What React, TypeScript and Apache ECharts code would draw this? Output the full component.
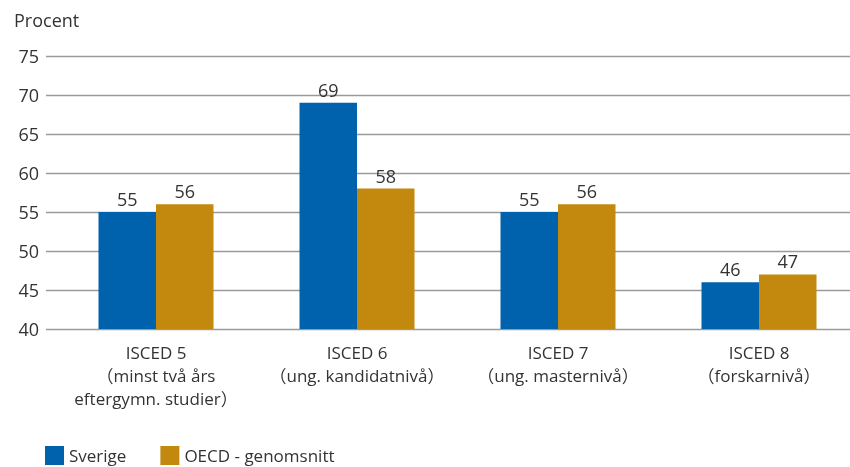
import React, { useEffect, useRef } from "react";
import * as echarts from "echarts";

const categories = [
  "ISCED 5\n（minst två års\neftergymn. studier）",
  "ISCED 6\n（ung. kandidatnivå）",
  "ISCED 7\n（ung. masternivå）",
  "ISCED 8\n（forskarnivå）",
];
const sverige = [55, 69, 55, 46];
const oecd = [56, 58, 56, 47];
const seriesNames = ["Sverige", "OECD - genomsnitt"];
const yMin = 40;
const yMax = 75;
const yStep = 5;

const FONT = "'Open Sans', 'Noto Sans', sans-serif";
const CJK = "'Noto Sans CJK SC', 'Open Sans', sans-serif";
const TEXT = "#333";
const BLUE = "#0062AC";
const GOLD = "#C3880E";

export default function App() {
  const ref = useRef<HTMLDivElement>(null);
  useEffect(() => {
    if (!ref.current) return;
    const chart = echarts.init(ref.current, null, { renderer: "svg" });
    const labelStyle = {
      show: true,
      position: "top" as const,
      distance: 4,
      color: TEXT,
      fontSize: 18,
      fontFamily: FONT,
    };
    chart.setOption({
      animation: false,
      textStyle: { fontFamily: FONT },
      title: {
        text: "Procent",
        left: 9,
        top: 6,
        textStyle: { color: TEXT, fontSize: 18, fontWeight: "normal", fontFamily: FONT },
      },
      legend: {
        left: 40,
        top: 441,
        itemWidth: 19,
        itemHeight: 19,
        itemGap: 34,
        icon: "rect",
        data: seriesNames,
        textStyle: { color: TEXT, fontSize: 17, fontFamily: FONT },
      },
      grid: [
        { left: 46, top: 56, width: 804, height: 273, outerBoundsMode: "none", containLabel: false },
        { left: 55.5, top: 56, width: 804, height: 273, outerBoundsMode: "none", containLabel: false },
      ],
      xAxis: [
        { type: "category", gridIndex: 0, data: categories, show: false },
        {
          type: "category",
          gridIndex: 1,
          data: categories,
          axisLine: { show: false },
          axisTick: { show: false },
          axisLabel: {
            color: TEXT,
            fontSize: 17,
            fontFamily: FONT,
            lineHeight: 23,
            margin: 12,
            interval: 0,
            formatter: (v: string) =>
              v
                .split("\n")
                .map((line) =>
                  line
                    .split(/([（）])/)
                    .filter((s) => s.length > 0)
                    .map((s) => (s === "（" || s === "）" ? `{p|${s}}` : `{t|${s}}`))
                    .join("")
                )
                .join("\n"),
            rich: {
              t: { fontSize: 17, fontFamily: FONT, color: TEXT, lineHeight: 23 },
              p: { fontSize: 17, fontFamily: CJK, color: TEXT, lineHeight: 23 },
            },
          },
        },
      ],
      yAxis: [
        {
          type: "value",
          gridIndex: 0,
          min: yMin,
          max: yMax,
          interval: yStep,
          axisLine: { show: false },
          axisTick: { show: false },
          splitLine: { lineStyle: { color: "#9a9a9a", width: 1.3 } },
          axisLabel: { color: TEXT, fontSize: 18, fontFamily: FONT, margin: 7 },
        },
        {
          type: "value",
          gridIndex: 1,
          min: yMin,
          max: yMax,
          interval: yStep,
          show: false,
          splitLine: { show: false },
        },
      ],
      series: [
        {
          name: seriesNames[0],
          type: "bar",
          xAxisIndex: 1,
          yAxisIndex: 1,
          data: sverige,
          barWidth: 57.5,
          barGap: "0%",
          itemStyle: { color: BLUE },
          label: labelStyle,
        },
        {
          name: seriesNames[1],
          type: "bar",
          xAxisIndex: 1,
          yAxisIndex: 1,
          data: oecd,
          barWidth: 57.5,
          barGap: "0%",
          itemStyle: { color: GOLD },
          label: labelStyle,
        },
      ],
    });
    return () => chart.dispose();
  }, []);
  return (
    <div
      ref={ref}
      style={{ position: "fixed", left: 0, top: 0, width: 850, height: 467 }}
    />
  );
}
